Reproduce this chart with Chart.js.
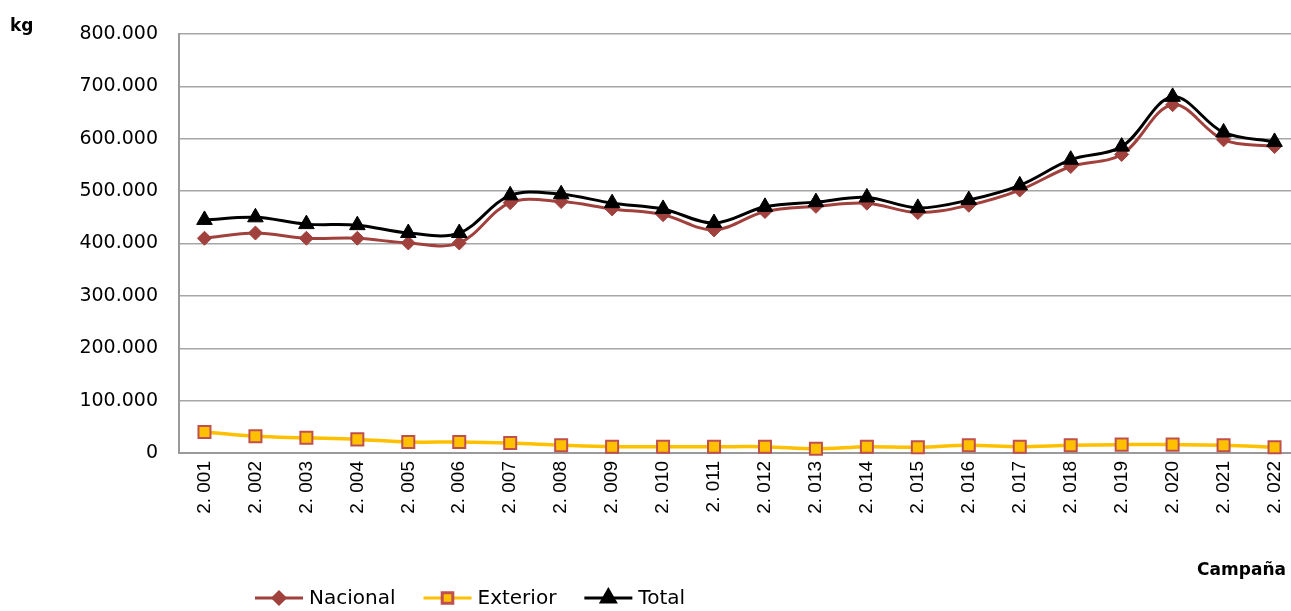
<!DOCTYPE html>
<html>
<head>
<meta charset="utf-8">
<script src="https://cdn.jsdelivr.net/npm/chart.js@4.4.1/dist/chart.umd.min.js"></script>
<style>
  html, body { margin: 0; background: #fff; overflow: hidden; }
</style>
</head>
<body>
<canvas id="chart" width="1291" height="611"></canvas>
<script>
const campanas = ["2. 001", "2. 002", "2. 003", "2. 004", "2. 005", "2. 006", "2. 007", "2. 008", "2. 009", "2. 010", "2. 011",
  "2. 012", "2. 013", "2. 014", "2. 015", "2. 016", "2. 017", "2. 018", "2. 019", "2. 020", "2. 021", "2. 022"];
const nacional = [410000, 420000, 410000, 410000, 401000, 401000, 478000, 480000, 466000, 455000, 426000,
  461000, 471000, 477000, 459000, 473000, 502000, 547000, 570000, 665000, 598000, 585000];
const exterior = [40000, 32000, 29000, 26000, 21000, 21000, 19000, 15000, 12000, 12000, 12000,
  12000, 8000, 12000, 11000, 15000, 12000, 15000, 16000, 16000, 15000, 11000];
const total = [445000, 450000, 437000, 435000, 420000, 420000, 492000, 494000, 477000, 466000, 439000,
  470000, 479000, 488000, 468000, 483000, 511000, 560000, 585000, 680000, 612000, 594000];
const yTicks = [0, 100000, 200000, 300000, 400000, 500000, 600000, 700000, 800000];

Chart.defaults.font.family = '"DejaVu Sans", sans-serif';
Chart.defaults.color = '#000';

const fmt = v => v === 0 ? '0' : String(v).replace(/\B(?=(\d{3})+(?!\d))/g, '.');

// the original plot runs a little past the right edge of the picture
const stretchX = {
  id: 'stretchX',
  afterLayout(chart) {
    const x = chart.scales.x;
    x.right = 1300;
    x.width = x.right - x.left;
    x.configure();
  }
};

// line + marker legend, drawn by hand so it can sit left of centre like the original
const lineLegend = {
  id: 'lineLegend',
  afterDraw(chart) {
    const ctx = chart.ctx;
    ctx.save();
    ctx.font = '20px "DejaVu Sans"';
    ctx.textBaseline = 'middle';
    ctx.textAlign = 'left';
    let x = 255;
    const y = 598;
    chart.data.datasets.forEach(ds => {
      ctx.strokeStyle = ds.borderColor;
      ctx.lineWidth = 3;
      ctx.beginPath();
      ctx.moveTo(x, y);
      ctx.lineTo(x + 48, y);
      ctx.stroke();
      ctx.fillStyle = ds.pointBackgroundColor;
      ctx.strokeStyle = ds.pointBorderColor;
      Chart.helpers.drawPoint(ctx, {
        pointStyle: ds.pointStyle, radius: ds.pointRadius - 1, rotation: 0, borderWidth: ds.pointBorderWidth
      }, x + 24, y);
      ctx.fillStyle = '#000';
      ctx.fillText(ds.label, x + 54, y + 1);
      x += 54 + ctx.measureText(ds.label).width + 28;
    });
    ctx.restore();
  }
};

const axisTitles = {
  id: 'axisTitles',
  afterDraw(chart) {
    const ctx = chart.ctx;
    ctx.save();
    ctx.fillStyle = '#000';
    ctx.font = 'bold 17px "DejaVu Sans"';
    ctx.textBaseline = 'alphabetic';
    ctx.textAlign = 'left';
    ctx.fillText('kg', 10, 31);
    ctx.textAlign = 'right';
    ctx.fillText('Campaña', 1286, 575);
    ctx.restore();
  }
};

new Chart(document.getElementById('chart'), {
  type: 'line',
  data: {
    labels: campanas,
    datasets: [
      {
        label: 'Nacional',
        data: nacional,
        borderColor: '#A0413D',
        borderWidth: 3,
        pointStyle: 'rectRot',
        pointRadius: 7,
        pointBackgroundColor: '#A0413D',
        pointBorderColor: '#A0413D',
        pointBorderWidth: 1,
        tension: 0.35,
        clip: false,
        order: 2
      },
      {
        label: 'Exterior',
        data: exterior,
        borderColor: '#FFC000',
        borderWidth: 3.5,
        pointStyle: 'rect',
        pointRadius: 8.5,
        pointBackgroundColor: '#FFC000',
        pointBorderColor: '#C0504D',
        pointBorderWidth: 2,
        tension: 0.35,
        clip: false,
        order: 1
      },
      {
        label: 'Total',
        data: total,
        borderColor: '#000000',
        borderWidth: 3,
        pointStyle: 'triangle',
        pointRadius: 9,
        pointBackgroundColor: '#000000',
        pointBorderColor: '#000000',
        pointBorderWidth: 1,
        tension: 0.35,
        clip: false,
        order: 0
      }
    ]
  },
  options: {
    responsive: false,
    animation: false,
    layout: { autoPadding: false, padding: { top: 34, right: 0, left: 0, bottom: 0 } },
    plugins: {
      legend: { display: false },
      tooltip: { enabled: false }
    },
    scales: {
      x: {
        offset: true,
        grid: { display: false, drawTicks: false },
        border: { color: '#9a9a9a', width: 2 },
        ticks: {
          minRotation: 90,
          maxRotation: 90,
          padding: 8,
          autoSkip: false,
          font: { family: '"Liberation Sans", sans-serif', size: 19 }
        },
        afterFit(scale) {
          scale.height = 158;
          scale.paddingLeft = 0;
          scale.paddingRight = 0;
        }
      },
      y: {
        min: 0,
        max: 800000,
        afterBuildTicks(scale) { scale.ticks = yTicks.map(v => ({ value: v })); },
        grid: { color: '#a6a6a6', lineWidth: 1.5, drawTicks: false },
        border: { color: '#9a9a9a', width: 2 },
        ticks: {
          padding: 21,
          font: { size: 19 },
          callback: v => fmt(v)
        },
        afterFit(scale) { scale.width = 179; }
      }
    }
  },
  plugins: [stretchX, lineLegend, axisTitles]
});
</script>
</body>
</html>
